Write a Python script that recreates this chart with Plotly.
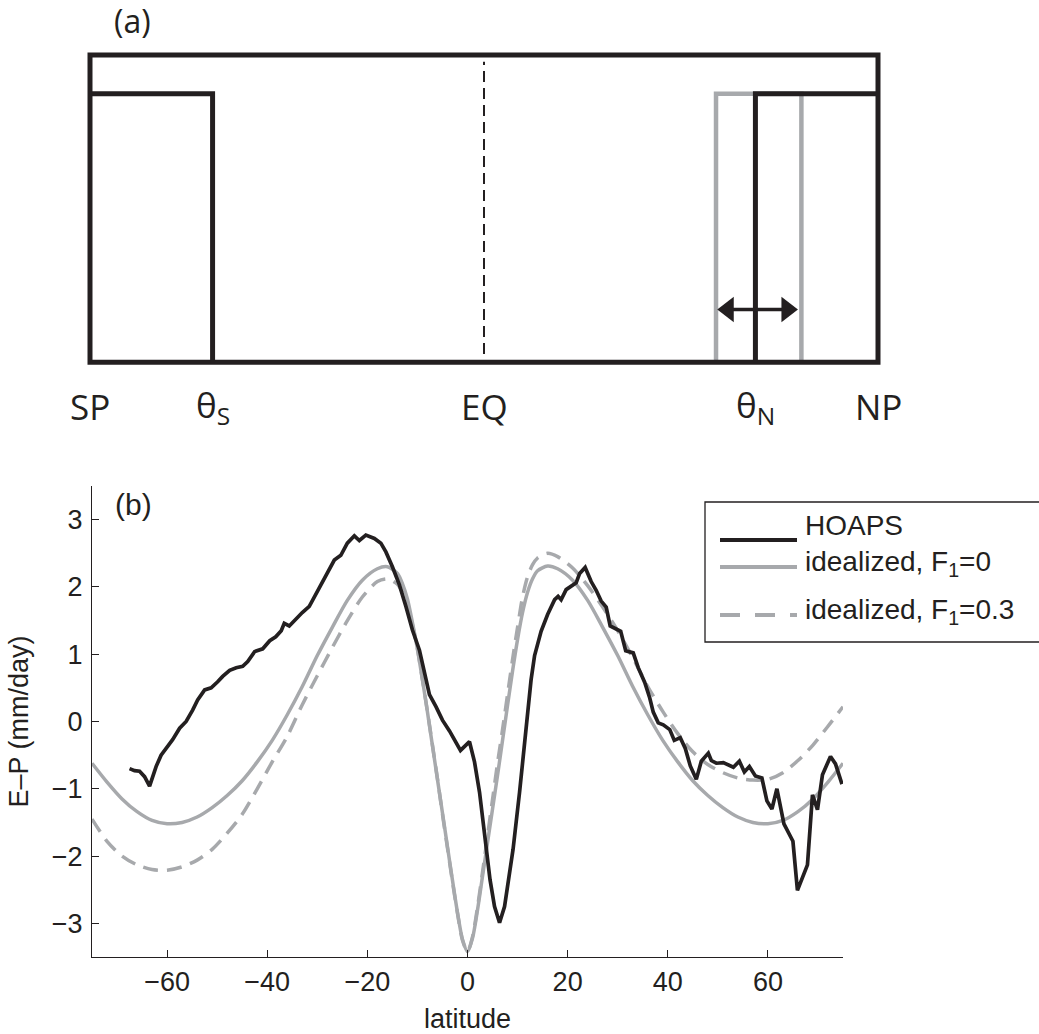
import plotly.graph_objects as go

# ---------------- panel (b) data ----------------
HOAPS_LAT = [-67.5, -66.5, -65.5, -64.5, -63.5, -62.2, -61.2, -59.9, -58.9, -57.5,
             -56.2, -54.9, -53.9, -52.5, -51.2, -49.9, -48.9, -47.5, -46.2, -44.9,
             -43.9, -42.5, -40.9, -39.5, -38.3, -37.2, -36.6, -35.6, -34.3, -33.0,
             -31.6, -30.6, -29.3, -28.0, -26.6, -25.3, -24.0, -22.6, -21.6, -20.3,
             -18.6, -17.3, -16.3, -15.0, -13.6, -12.3, -11.0, -9.6, -8.6, -7.6,
             -6.3, -5.0, -3.6, -2.6, -1.4, 0.4, 1.4, 2.4, 3.5, 4.5,
             5.4, 6.4, 7.4, 8.3, 9.1, 10.4, 11.7, 12.7, 13.4, 14.7,
             16.0, 17.4, 18.1, 18.7, 19.7, 20.7, 21.7, 22.4, 23.5, 24.7,
             25.7, 26.7, 27.7, 28.5, 29.7, 30.6, 31.6, 33.1, 34.1, 35.4,
             36.4, 37.1, 38.1, 39.1, 40.4, 41.3, 42.5, 43.5, 44.5, 45.7,
             46.7, 48.1, 48.7, 49.7, 51.1, 52.1, 53.1, 54.3, 55.3, 56.3,
             57.5, 58.8, 59.8, 60.8, 61.8, 63.2, 64.1, 65.0, 65.9, 67.9,
             68.9, 69.9, 70.9, 72.5, 73.5, 74.8]
HOAPS_EP = [-0.70, -0.73, -0.74, -0.82, -0.96, -0.67, -0.50, -0.38, -0.27, -0.10,
            0.00, 0.17, 0.32, 0.47, 0.50, 0.59, 0.67, 0.76, 0.80, 0.82,
            0.89, 1.04, 1.08, 1.20, 1.26, 1.35, 1.46, 1.42, 1.53, 1.62,
            1.71, 1.85, 2.03, 2.23, 2.40, 2.47, 2.65, 2.76, 2.69, 2.77,
            2.72, 2.65, 2.52, 2.30, 2.03, 1.71, 1.36, 1.06, 0.72, 0.40,
            0.22, 0.02, -0.14, -0.27, -0.43, -0.30, -0.60, -1.05, -1.72, -2.35,
            -2.75, -2.99, -2.75, -2.30, -1.90, -1.05, -0.10, 0.62, 0.98, 1.34,
            1.59, 1.81, 1.86, 1.81, 1.96, 2.01, 2.06, 2.20, 2.29, 2.08,
            1.95, 1.79, 1.70, 1.42, 1.38, 1.34, 1.05, 1.02, 0.80, 0.58,
            0.35, 0.14, -0.02, -0.05, -0.12, -0.28, -0.24, -0.40, -0.66, -0.86,
            -0.59, -0.47, -0.58, -0.62, -0.61, -0.64, -0.68, -0.59, -0.75, -0.67,
            -0.81, -0.84, -1.18, -1.30, -1.00, -1.52, -1.66, -1.78, -2.51, -2.13,
            -1.09, -1.31, -0.79, -0.52, -0.63, -0.93]

IDEAL_LAT = [-75, -72, -69, -66, -63, -60, -57, -54, -51, -48,
             -45, -42, -39, -36, -33, -30, -27, -24, -21, -18,
             -16, -14, -13, -12, -11, -10, -9, -8, -7, -6,
             -5, -4, -3, -2, -1, 0, 1, 2, 3, 4,
             5, 6, 7, 8, 9, 10, 11, 12, 13, 14,
             16, 18, 21, 24, 27, 30, 33, 36, 39, 42,
             45, 48, 51, 54, 57, 60, 63, 66, 69, 72, 75]
IDEAL_F0 = [-0.62, -0.90, -1.15, -1.34, -1.47, -1.52, -1.50, -1.42, -1.28, -1.10,
            -0.88, -0.60, -0.28, 0.10, 0.52, 0.98, 1.40, 1.80, 2.10, 2.27,
            2.30, 2.20, 2.05, 1.82, 1.47, 1.08, 0.62, 0.14, -0.36, -0.86,
            -1.36, -1.86, -2.36, -2.84, -3.24, -3.42, -3.22, -2.80, -2.30, -1.80,
            -1.30, -0.80, -0.28, 0.24, 0.75, 1.22, 1.62, 1.92, 2.12, 2.24,
            2.31, 2.27, 2.10, 1.80, 1.40, 0.98, 0.52, 0.10, -0.28, -0.60,
            -0.88, -1.10, -1.28, -1.42, -1.50, -1.52, -1.47, -1.34, -1.15, -0.90, -0.62]
IDEAL_F03 = [-1.45, -1.78, -2.00, -2.13, -2.20, -2.21, -2.16, -2.06, -1.90, -1.66,
             -1.38, -1.00, -0.60, -0.22, 0.25, 0.68, 1.10, 1.50, 1.85, 2.08,
             2.12, 2.04, 1.92, 1.74, 1.44, 1.08, 0.62, 0.15, -0.35, -0.85,
             -1.38, -1.88, -2.38, -2.85, -3.25, -3.42, -3.20, -2.76, -2.24, -1.70,
             -1.16, -0.62, -0.12, 0.40, 0.92, 1.40, 1.85, 2.15, 2.33, 2.43,
             2.50, 2.45, 2.28, 2.02, 1.70, 1.35, 0.95, 0.52, 0.15, -0.18,
             -0.45, -0.64, -0.76, -0.84, -0.87, -0.86, -0.76, -0.58, -0.35, -0.07, 0.22]

SERIES_NAMES = ["HOAPS", "idealized, F<sub>1</sub>=0", "idealized, F<sub>1</sub>=0.3"]
X_TICKS = [-60, -40, -20, 0, 20, 40, 60]
Y_TICKS = [-3, -2, -1, 0, 1, 2, 3]
X_RANGE = [-75, 75]
Y_RANGE = [-3.5, 3.5]

# ---------------- panel (a) schematic data ----------------
POLE_S, POLE_N = -90, 90
EQ = 0
THETA_S = -62
THETA_N = 62
THETA_N_SPREAD = [53, 72.5]
ARROW_HEADS = [55.8, 69.2]      # centres of the two arrow heads
CELL_TOP = 0.874
EQ_LINE = [0.027, 0.978]
ARROW_Y = 0.172
LABEL_Y = -0.145
SCHEMATIC_LABELS = ["SP", "θ<sub>S</sub>", "EQ", "θ<sub>N</sub>", "NP"]
SCHEMATIC_LABEL_X = [POLE_S, THETA_S, EQ, THETA_N, POLE_N]

# ---------------- layout helpers ----------------
W, H = 1039, 1034
BLACK = "#231f20"
GRAY = "#a7a9ac"
SANS_B = "Liberation Sans, Arial, Helvetica, sans-serif"
SANS_A = "Open Sans, Noto Sans, sans-serif"


def fx(px):
    return px / W


def fy(py):
    return 1 - py / H


# panel (b) plot area in pixels
B_L, B_R, B_T, B_B = 92, 843, 486, 957
# panel (a) geometry in pixels
A_L, A_R, A_T, A_B = 90, 878, 55, 362.3
X2_RANGE = [-95, 95]
Y2_RANGE = [-0.22, 1.05]
a_ppu_x = (A_R - A_L) / (POLE_N - POLE_S)
a_cx = (A_L + A_R) / 2
a_ppu_y = A_B - A_T
x2_dom = [fx(a_cx + X2_RANGE[0] * a_ppu_x), fx(a_cx + X2_RANGE[1] * a_ppu_x)]
y2_dom = [fy(A_B - Y2_RANGE[0] * a_ppu_y), fy(A_B - Y2_RANGE[1] * a_ppu_y)]

fig = go.Figure()

# ---- panel (b) curves ----
fig.add_trace(go.Scatter(x=IDEAL_LAT, y=IDEAL_F03, mode="lines", name=SERIES_NAMES[2],
                         line=dict(color=GRAY, width=3.5, dash="15px,9px", shape="spline", smoothing=0.8),
                         xaxis="x", yaxis="y", showlegend=False))
fig.add_trace(go.Scatter(x=IDEAL_LAT, y=IDEAL_F0, mode="lines", name=SERIES_NAMES[1],
                         line=dict(color=GRAY, width=3.5, shape="spline", smoothing=0.8),
                         xaxis="x", yaxis="y", showlegend=False))
fig.add_trace(go.Scatter(x=HOAPS_LAT, y=HOAPS_EP, mode="lines", name=SERIES_NAMES[0],
                         line=dict(color=BLACK, width=3.7),
                         xaxis="x", yaxis="y", showlegend=False))

# ---- panel (a) schematic ----
fig.add_trace(go.Scatter(x=[THETA_N_SPREAD[0], THETA_N_SPREAD[0], THETA_N_SPREAD[1], THETA_N_SPREAD[1]],
                         y=[0, CELL_TOP, CELL_TOP, 0], mode="lines",
                         line=dict(color=GRAY, width=4.5), xaxis="x2", yaxis="y2",
                         showlegend=False, hoverinfo="skip"))
fig.add_trace(go.Scatter(x=[EQ, POLE_N, POLE_N, POLE_S, POLE_S, EQ], y=[0, 0, 1, 1, 0, 0], mode="lines",
                         line=dict(color=BLACK, width=5), xaxis="x2", yaxis="y2",
                         showlegend=False, hoverinfo="skip"))
fig.add_trace(go.Scatter(x=[POLE_S, THETA_S, THETA_S], y=[CELL_TOP, CELL_TOP, 0], mode="lines",
                         line=dict(color=BLACK, width=5), xaxis="x2", yaxis="y2",
                         showlegend=False, hoverinfo="skip"))
fig.add_trace(go.Scatter(x=[POLE_N, THETA_N, THETA_N], y=[CELL_TOP, CELL_TOP, 0], mode="lines",
                         line=dict(color=BLACK, width=5), xaxis="x2", yaxis="y2",
                         showlegend=False, hoverinfo="skip"))
fig.add_trace(go.Scatter(x=[EQ, EQ], y=EQ_LINE, mode="lines",
                         line=dict(color=BLACK, width=2, dash="11px,6px"), xaxis="x2", yaxis="y2",
                         showlegend=False, hoverinfo="skip"))
# double-headed arrow showing the range of theta_N
fig.add_trace(go.Scatter(x=ARROW_HEADS, y=[ARROW_Y, ARROW_Y], mode="lines+markers",
                         line=dict(color=BLACK, width=3.5),
                         marker=dict(symbol=["triangle-left", "triangle-right"], size=22, color=BLACK,
                                     line=dict(width=0)),
                         xaxis="x2", yaxis="y2", showlegend=False, hoverinfo="skip", cliponaxis=False))

annotations = []
for lab, xv in zip(SCHEMATIC_LABELS, SCHEMATIC_LABEL_X):
    annotations.append(dict(x=xv, y=LABEL_Y, xref="x2", yref="y2", text=lab, showarrow=False,
                            xanchor="center", yanchor="middle",
                            font=dict(family=SANS_A, size=35, color=BLACK)))
annotations.append(dict(x=fx(132), y=fy(21), xref="paper", yref="paper", text="(a)", showarrow=False,
                        xanchor="center", yanchor="middle", font=dict(family=SANS_A, size=32, color=BLACK)))
annotations.append(dict(x=fx(133), y=fy(504), xref="paper", yref="paper", text="(b)", showarrow=False,
                        xanchor="center", yanchor="middle", font=dict(family=SANS_B, size=30, color=BLACK)))

# ---- manual legend (panel b) ----
shapes = [dict(type="rect", xref="paper", yref="paper", x0=fx(705), x1=fx(1045), y0=fy(642), y1=fy(502),
               line=dict(color=BLACK, width=1.3), fillcolor="rgba(0,0,0,0)", layer="above")]
leg_line_y = [540, 567, 615]
leg_text_y = [525, 563, 611]
leg_styles = [dict(color=BLACK, width=4), dict(color=GRAY, width=4), dict(color=GRAY, width=4, dash="20px,15px")]
for name, ly, ty, st in zip(SERIES_NAMES, leg_line_y, leg_text_y, leg_styles):
    shapes.append(dict(type="line", xref="paper", yref="paper", x0=fx(720), x1=fx(797), y0=fy(ly), y1=fy(ly),
                       line=st, layer="above"))
    annotations.append(dict(x=fx(803), y=fy(ty), xref="paper", yref="paper", text=name, showarrow=False,
                            xanchor="left", yanchor="middle", font=dict(family=SANS_B, size=28, color=BLACK)))

axis_common = dict(showgrid=False, zeroline=False, showline=True, linecolor=BLACK, linewidth=1.3,
                   ticks="inside", ticklen=7, tickwidth=1.3, tickcolor=BLACK, automargin=False,
                   tickfont=dict(family=SANS_B, size=27, color=BLACK))

fig.update_layout(
    template="none",
    width=W, height=H,
    margin=dict(l=0, r=0, t=0, b=0),
    paper_bgcolor="white", plot_bgcolor="rgba(0,0,0,0)",
    showlegend=False,
    xaxis=dict(domain=[fx(B_L), fx(B_R)], range=X_RANGE, tickvals=X_TICKS, anchor="y",
               title=dict(text="latitude", font=dict(family=SANS_B, size=27, color=BLACK)),
               **axis_common),
    yaxis=dict(domain=[fy(B_B), fy(B_T)], range=Y_RANGE, tickvals=Y_TICKS, anchor="x",
               ticklabelstandoff=3,
               title=dict(text="E–P (mm/day)", font=dict(family=SANS_B, size=27, color=BLACK)),
               **axis_common),
    xaxis2=dict(domain=x2_dom, range=X2_RANGE, visible=False, anchor="y2"),
    yaxis2=dict(domain=y2_dom, range=Y2_RANGE, visible=False, anchor="x2"),
    annotations=annotations,
    shapes=shapes,
)

fig.write_html("out.html")
